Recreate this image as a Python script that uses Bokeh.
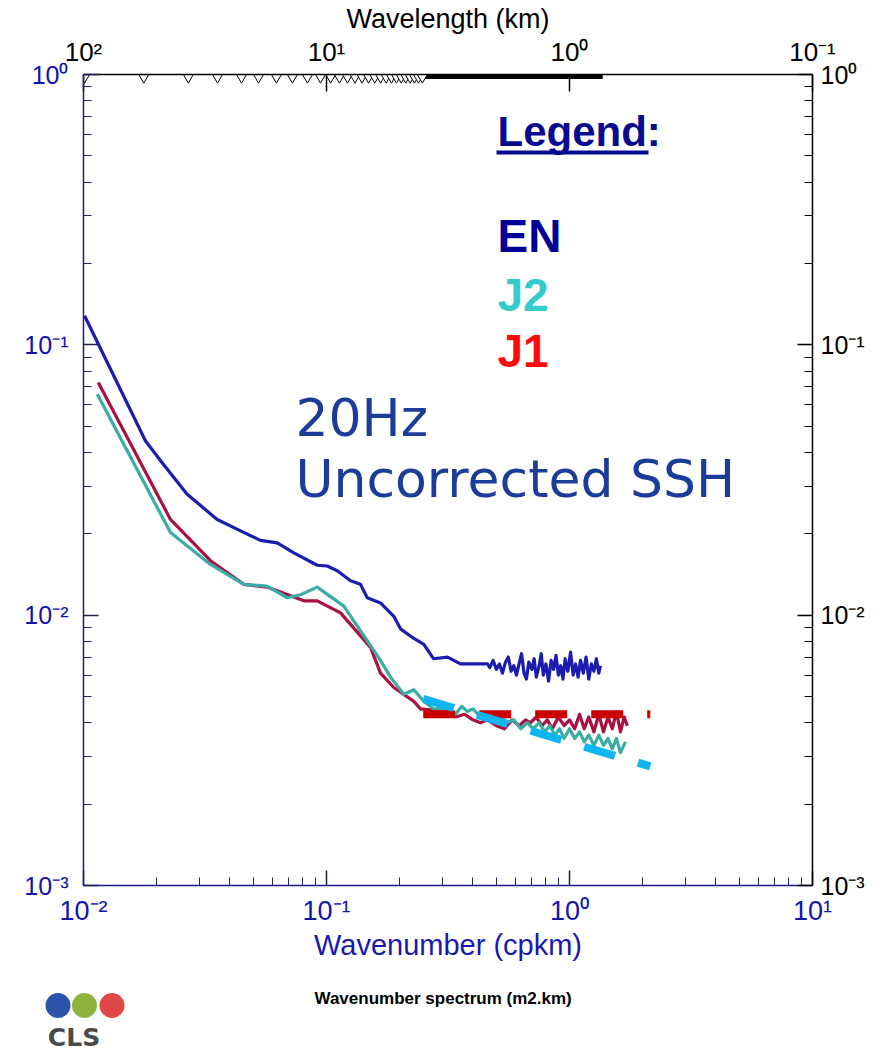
from bokeh.plotting import figure
from bokeh.models import LogAxis, FixedTicker, CustomJSTickFormatter, Label, Range1d
from bokeh.layouts import column
from bokeh.embed import file_html
from bokeh.resources import INLINE
from bokeh.core.properties import value

FONT = "Liberation Sans"

# ---------------- data ----------------
en_k = [0.0101, 0.0180, 0.0208, 0.0267, 0.0355, 0.0443, 0.0535, 0.0627, 0.0734, 0.0916,
        0.1007, 0.1107, 0.1256, 0.1380, 0.1471, 0.1668, 0.1892, 0.2016, 0.2288, 0.2515,
        0.2756, 0.3147, 0.3560, 0.4026, 0.4598, 0.47, 0.485, 0.50, 0.515, 0.53,
        0.545, 0.56, 0.575, 0.59, 0.605, 0.62, 0.635, 0.65, 0.665, 0.68,
        0.70, 0.715, 0.73, 0.75, 0.765, 0.78, 0.80, 0.82, 0.84, 0.86,
        0.88, 0.90, 0.92, 0.94, 0.96, 0.985, 1.01, 1.035, 1.06, 1.085,
        1.11, 1.14, 1.17, 1.20, 1.23, 1.26, 1.29, 1.32, 1.34]
en_s = [0.1281, 0.0441, 0.0372, 0.0280, 0.0226, 0.0205, 0.0189, 0.0185, 0.0170, 0.0153,
        0.0152, 0.0146, 0.0134, 0.0130, 0.0116, 0.0111, 0.0099, 0.0089, 0.0082, 0.0078,
        0.0069, 0.0070, 0.0066, 0.0066, 0.0066, 0.0064, 0.0068, 0.0063, 0.0066, 0.0061,
        0.0067, 0.0070, 0.0062, 0.0065, 0.0060, 0.0066, 0.0072, 0.0061, 0.0058, 0.0067,
        0.0063, 0.0069, 0.0059, 0.0065, 0.0072, 0.0060, 0.0066, 0.0057, 0.0068, 0.0063,
        0.0071, 0.0060, 0.0065, 0.0058, 0.0069, 0.0062, 0.0073, 0.0060, 0.0066, 0.0059,
        0.0068, 0.0061, 0.0070, 0.0058, 0.0066, 0.0062, 0.0069, 0.0061, 0.0065]

j1_k = [0.0115, 0.0228, 0.0333, 0.0457, 0.0570, 0.0807, 0.0916, 0.1142, 0.1518, 0.1668,
        0.1892, 0.2288, 0.2437, 0.3138, 0.34, 0.37, 0.40, 0.43, 0.46, 0.50,
        0.54, 0.58, 0.62, 0.66, 0.69, 0.73, 0.77, 0.81, 0.85, 0.90,
        0.95, 1.00, 1.05, 1.10, 1.15, 1.20, 1.26, 1.32, 1.38, 1.44,
        1.50, 1.56, 1.62, 1.68, 1.73]
j1_s = [0.0725, 0.0226, 0.0159, 0.0130, 0.0127, 0.0113, 0.0113, 0.0102, 0.0076, 0.0061,
        0.0054, 0.0048, 0.0045, 0.0044, 0.0042, 0.0043, 0.0041, 0.0040, 0.0041, 0.0039,
        0.0038, 0.0041, 0.0039, 0.0041, 0.0040, 0.0042, 0.0039, 0.0041, 0.0038, 0.0042,
        0.0039, 0.0041, 0.0038, 0.0043, 0.0038, 0.0042, 0.0037, 0.0043, 0.0037, 0.0042,
        0.0038, 0.0044, 0.0037, 0.0042, 0.0039]

j2_k = [0.0114, 0.0228, 0.0333, 0.0457, 0.0570, 0.0689, 0.0782, 0.0916, 0.1178, 0.1566,
        0.1668, 0.1834, 0.2080, 0.2288, 0.2515, 0.2764, 0.3138, 0.34, 0.36, 0.38,
        0.40, 0.43, 0.46, 0.49, 0.52, 0.55, 0.59, 0.63, 0.67, 0.71,
        0.75, 0.79, 0.83, 0.87, 0.91, 0.95, 1.00, 1.05, 1.10, 1.15,
        1.20, 1.26, 1.32, 1.38, 1.44, 1.50, 1.56, 1.62, 1.70]
j2_s = [0.0657, 0.0202, 0.0154, 0.0130, 0.0128, 0.0116, 0.0119, 0.0127, 0.0108, 0.0074,
        0.0068, 0.0059, 0.0051, 0.0053, 0.0048, 0.0045, 0.0045, 0.0043, 0.0046, 0.0044,
        0.0045, 0.0042, 0.0043, 0.0041, 0.0043, 0.0040, 0.0041, 0.0038, 0.0040, 0.0038,
        0.0040, 0.0037, 0.0039, 0.0036, 0.0038, 0.0035, 0.0038, 0.0035, 0.0037, 0.0034,
        0.0036, 0.0033, 0.0036, 0.0033, 0.0035, 0.0032, 0.0035, 0.0031, 0.0034]

# reference (dashed) lines
red_ref_k = [0.25, 2.15]
red_ref_s = [0.0043, 0.0043]
cyan_ref_k = [0.25, 2.15]
cyan_ref_s = [0.0049, 0.00276]

# wavenumber samples marked along the top edge
top_marker_k = [0.0101, 0.0177, 0.0270, 0.0356, 0.0447, 0.0525, 0.0622, 0.0724, 0.0835,
                0.0945, 0.104, 0.113, 0.122, 0.131, 0.140, 0.149, 0.158, 0.167, 0.176,
                0.185, 0.194, 0.203, 0.212, 0.221, 0.230, 0.239, 0.248]
top_band_k = [0.25, 1.37]

# ticks / labels
x_tick_vals = [0.01, 0.1, 1.0, 10.0]
x_tick_labels = ["10⁻²", "10⁻¹", "10⁰", "10¹"]
y_tick_vals = [0.001, 0.01, 0.1, 1.0]
y_tick_labels = ["10⁻³", "10⁻²", "10⁻¹", "10⁰"]
top_tick_k = [0.01, 0.1, 1.0, 10.0]
top_tick_labels = ["10²", "10¹", "10⁰", "10⁻¹"]
minor_mults = [2, 3, 4, 5, 6, 7, 8, 9]

x_minor = [m * d for d in x_tick_vals[:-1] for m in minor_mults]
y_minor = [m * d for d in y_tick_vals[:-1] for m in minor_mults]


def fmt(vals, labs):
    return CustomJSTickFormatter(args=dict(vals=vals, labs=labs), code="""
        let best = -1, bd = 1e9;
        for (let i = 0; i < vals.length; i++) {
            const d = Math.abs(Math.log10(tick) - Math.log10(vals[i]));
            if (d < bd) { bd = d; best = i; }
        }
        return bd < 1e-6 ? labs[best] : "";
    """)


p = figure(width=880, height=970, x_axis_type="log", y_axis_type="log",
           x_range=Range1d(0.01, 10.0), y_range=Range1d(0.001, 1.0),
           output_backend="svg", toolbar_location=None,
           min_border_left=83, min_border_right=68, min_border_top=74, min_border_bottom=85)
p.frame_align = False
p.outline_line_color = None
p.grid.visible = False
p.background_fill_color = "white"
p.border_fill_color = "white"


def style(ax, line_color, tick_color, label_color, size, standoff):
    ax.axis_line_color = line_color
    ax.axis_line_width = 1.5
    ax.major_tick_in = 15
    ax.major_tick_out = 0
    ax.minor_tick_in = 8
    ax.minor_tick_out = 0
    ax.major_tick_line_color = tick_color
    ax.minor_tick_line_color = tick_color
    ax.major_tick_line_width = 1.5
    ax.minor_tick_line_width = 1
    ax.major_label_text_color = label_color
    ax.major_label_text_font = FONT
    ax.major_label_text_font_size = size
    ax.major_label_standoff = standoff


# bottom axis
xb = p.xaxis[0]
xb.ticker = FixedTicker(ticks=x_tick_vals, minor_ticks=x_minor)
xb.formatter = fmt(x_tick_vals, x_tick_labels)
style(xb, "#1a1a8a", "#202050", "#1414b0", "27px", 10)
xb.axis_label = "Wavenumber (cpkm)"
xb.axis_label_text_font = FONT
xb.axis_label_text_font_style = "normal"
xb.axis_label_text_font_size = "29px"
xb.axis_label_text_color = "#1818b0"
xb.axis_label_standoff = 0

# left axis
yl = p.yaxis[0]
yl.ticker = FixedTicker(ticks=y_tick_vals, minor_ticks=y_minor)
yl.formatter = fmt(y_tick_vals, y_tick_labels)
style(yl, "#1a1a8a", "#202050", "#1010b0", "25px", 15)

# right axis
yr = LogAxis(ticker=FixedTicker(ticks=y_tick_vals, minor_ticks=y_minor),
             formatter=fmt(y_tick_vals, y_tick_labels))
style(yr, "black", "black", "black", "25px", 8)
p.add_layout(yr, "right")

# top axis (wavelength)
xt = LogAxis(ticker=FixedTicker(ticks=top_tick_k, minor_ticks=[]),
             formatter=fmt(top_tick_k, top_tick_labels))
style(xt, "black", "black", "black", "26px", 8)
xt.major_tick_in = 17
xt.axis_label = "Wavelength (km)"
xt.axis_label_text_font = FONT
xt.axis_label_text_font_style = "normal"
xt.axis_label_text_font_size = "27px"
xt.axis_label_text_color = "black"
xt.axis_label_standoff = 0
p.add_layout(xt, "above")

# curves
p.line(en_k, en_s, line_color="#1c1cb0", line_width=3.2, line_join="round")
p.line(j1_k, j1_s, line_color="#aa1040", line_width=3.2, line_join="round")
p.line(j2_k, j2_s, line_color="#3aaca4", line_width=3.2, line_join="round")

# dashed reference lines
p.line(red_ref_k, red_ref_s, line_color="#cc0000", line_width=8, line_dash="32 24", line_cap="butt")
p.line(cyan_ref_k, cyan_ref_s, line_color="#10b4ee", line_width=8, line_dash="32 24", line_cap="butt")

# top-edge sample markers
p.line(top_band_k, [1.0] * len(top_band_k), line_color="black", line_width=9)
p.scatter(top_marker_k, [1.0] * len(top_marker_k), marker="inverted_triangle", size=15,
          fill_color="white", line_color="black", line_width=1)

# legend text
lab_kw = dict(text_font=FONT, text_font_style="bold", text_baseline="middle")
p.add_layout(Label(x=0.5056, y=0.6154, text="Legend:", text_font_size="42px",
                   text_color="#0a0a90", **lab_kw))
p.line([0.5007, 2.114], [0.5145, 0.5145], line_color="#0a0a90", line_width=4)
p.add_layout(Label(x=0.5056, y=0.2527, text="EN", text_font_size="46px",
                   text_color="#000096", **lab_kw))
p.add_layout(Label(x=0.5056, y=0.1528, text="J2", text_font_size="46px",
                   text_color="#33cccc", **lab_kw))
p.add_layout(Label(x=0.5056, y=0.0949, text="J1", text_font_size="46px",
                   text_color="#ff0a0a", **lab_kw))

p.add_layout(Label(x=0.0745, y=0.0534, text="20Hz", text_font="DejaVu Sans",
                   text_font_size="52px", text_color="#1b3d99", text_baseline="middle"))
p.add_layout(Label(x=0.0745, y=0.0320, text="Uncorrected SSH", text_font="DejaVu Sans",
                   text_font_size="52px", text_color="#1b3d99", text_baseline="middle"))

# ---------------- footer: logo + caption ----------------
q = figure(width=880, height=84, x_range=Range1d(0, 880), y_range=Range1d(0, 84),
           output_backend="svg", toolbar_location=None,
           min_border_left=0, min_border_right=0, min_border_top=0, min_border_bottom=0)
q.frame_align = False
q.axis.visible = False
q.grid.visible = False
q.outline_line_color = None
q.background_fill_color = "white"
q.border_fill_color = "white"
q.circle(x=[57.5, 84.0, 111.5], y=[49, 49, 49], radius=12.5,
         fill_color=["#2c54a8", "#8cb43c", "#e04848"], line_color=None)
q.text(x=[73.5], y=[17], text=["CLS"], text_font=value("DejaVu Sans"), text_font_style="bold",
       text_font_size="25px", text_color="#4a4a4a", text_align="center", text_baseline="middle")
q.text(x=[445], y=[56], text=["Wavenumber  spectrum (m2.km)"], text_font=value(FONT),
       text_font_style="bold", text_font_size="17px", text_color="black",
       text_align="center", text_baseline="middle")

layout = column(p, q)
open("out.html", "w").write(file_html(layout, INLINE))
